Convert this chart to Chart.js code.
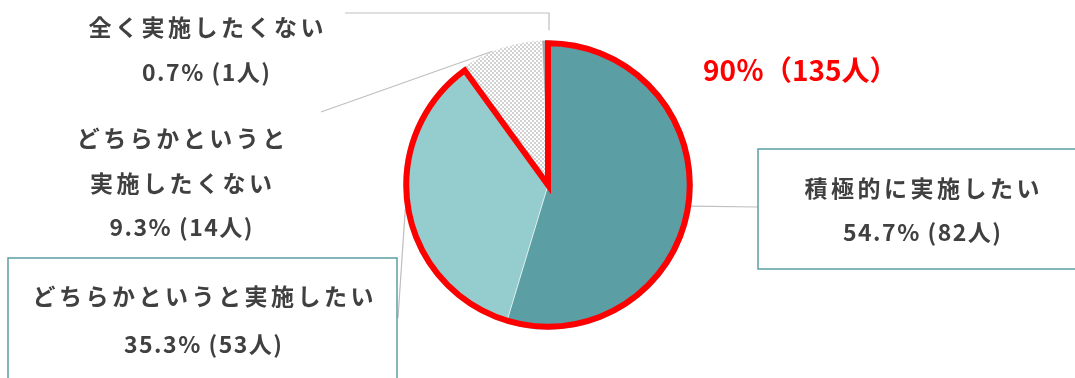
<!DOCTYPE html>
<html>
<head>
<meta charset="utf-8">
<script src="https://cdn.jsdelivr.net/npm/chart.js@4"></script>
<style>
html,body{margin:0;padding:0;background:#fff;}
#wrap{width:1075px;height:378px;position:relative;}
</style>
</head>
<body>
<div id="wrap"><canvas id="c" width="1075" height="378"></canvas></div>
<script>
// ---- data ----
const categories = ['積極的に実施したい', 'どちらかというと実施したい', 'どちらかというと実施したくない', '全く実施したくない'];
const counts = [82, 53, 14, 1];
const percents = [54.7, 35.3, 9.3, 0.7];
const highlightPercent = 90;
const highlightCount = 135;

// ---- style / layout ----
const FONT = '"Noto Sans CJK JP", "Noto Sans", sans-serif';
const TEXT_COLOR = '#404040';
const BOX_COLOR = '#5b9ea4';
const LEADER_COLOR = '#bfbfbf';

function makePattern() {
  const p = document.createElement('canvas');
  p.width = 4; p.height = 4;
  const g = p.getContext('2d');
  g.fillStyle = '#ffffff';
  g.fillRect(0, 0, 4, 4);
  g.fillStyle = '#d2d2d2';
  for (let x = 0; x < 4; x++) for (let y = 0; y < 4; y++) {
    if (((x >> 1) + (y >> 1)) % 2 === 0) g.fillRect(x, y, 1, 1);
  }
  return document.getElementById('c').getContext('2d').createPattern(p, 'repeat');
}

const labelLayout = [
  { lines: [categories[0]], cx: 922, ys: [188, 232], box: [758, 149, 330, 120], leader: 'right', end: [758, 207] },
  { lines: [categories[1]], cx: 203, ys: [296, 344], box: [8, 258, 389, 140], leader: 'down', end: [398, 318] },
  { lines: ['どちらかというと', '実施したくない'], cx: 181, ys: [138, 183, 227], box: null, leader: 'diag', end: [321, 112] },
  { lines: [categories[3]], cx: 206, ys: [27, 72], box: null, leader: 'elbow', end: [345, 13] }
];

function drawSpaced(ctx, text, cx, cy, spacing) {
  ctx.letterSpacing = spacing + 'px';
  const w = ctx.measureText(text).width - spacing;
  ctx.textAlign = 'left';
  ctx.fillText(text, cx - w / 2, cy);
}

const overlayPlugin = {
  id: 'overlay',
  afterDatasetsDraw(chart) {
    const ctx = chart.ctx;
    const meta = chart.getDatasetMeta(0);
    const arcs = meta.data.map(a => a.getProps(['x', 'y', 'startAngle', 'endAngle', 'outerRadius'], true));
    ctx.save();
    ctx.strokeStyle = LEADER_COLOR;
    ctx.lineWidth = 1.2;
    arcs.forEach((a, i) => {
      const L = labelLayout[i];
      const mid = (a.startAngle + a.endAngle) / 2;
      const px = a.x + Math.cos(mid) * a.outerRadius;
      const py = a.y + Math.sin(mid) * a.outerRadius;
      ctx.beginPath();
      if (L.leader === 'elbow') {
        ctx.moveTo(L.end[0], L.end[1]);
        ctx.lineTo(a.x + 1, L.end[1]);
        ctx.lineTo(a.x + 1, py - 10);
      } else if (L.leader === 'diag') {
        ctx.moveTo(L.end[0], L.end[1]);
        ctx.lineTo(px - 8, py + 3);
      } else {
        ctx.moveTo(px, py);
        ctx.lineTo(L.end[0], L.end[1]);
      }
      ctx.stroke();
    });
    ctx.restore();

    const a0 = arcs[0], a1 = arcs[1];
    ctx.save();
    ctx.strokeStyle = '#ff0000';
    ctx.lineWidth = 6;
    ctx.lineJoin = 'miter';
    const r = a0.outerRadius - 3;
    ctx.beginPath();
    ctx.moveTo(a0.x, a0.y);
    ctx.arc(a0.x, a0.y, r, a0.startAngle, a1.endAngle, false);
    ctx.closePath();
    ctx.stroke();
    ctx.restore();

    ctx.save();
    ctx.textBaseline = 'middle';
    labelLayout.forEach((L, i) => {
      if (L.box) {
        ctx.fillStyle = '#ffffff';
        ctx.fillRect(L.box[0], L.box[1], L.box[2], L.box[3]);
        ctx.strokeStyle = BOX_COLOR;
        ctx.lineWidth = 1.5;
        ctx.strokeRect(L.box[0], L.box[1], L.box[2], L.box[3]);
      }
      ctx.fillStyle = TEXT_COLOR;
      ctx.font = 'bold 23px ' + FONT;
      L.lines.forEach((t, k) => drawSpaced(ctx, t, L.cx, L.ys[k], 3.5));
      const valueText = percents[i] + '% (' + counts[i] + '人)';
      drawSpaced(ctx, valueText, L.cx, L.ys[L.lines.length], 1.5);
    });
    ctx.fillStyle = '#ff0000';
    ctx.font = 'bold 28px ' + FONT;
    ctx.letterSpacing = '0px';
    ctx.textAlign = 'left';
    ctx.fillText(highlightPercent + '％（' + highlightCount + '人）', 703, 70);
    ctx.restore();
  }
};

const chart = new Chart(document.getElementById('c'), {
  type: 'pie',
  data: {
    labels: categories,
    datasets: [{
      data: counts,
      backgroundColor: ['#5b9ea4', '#95cccd', makePattern(), '#a6a6a6'],
      borderColor: '#ffffff',
      borderWidth: 0.5
    }]
  },
  options: {
    responsive: false,
    animation: false,
    layout: { padding: { left: 403, right: 382, top: 40, bottom: 48 } },
    plugins: { legend: { display: false }, tooltip: { enabled: false } }
  },
  plugins: [overlayPlugin]
});
</script>
</body>
</html>
